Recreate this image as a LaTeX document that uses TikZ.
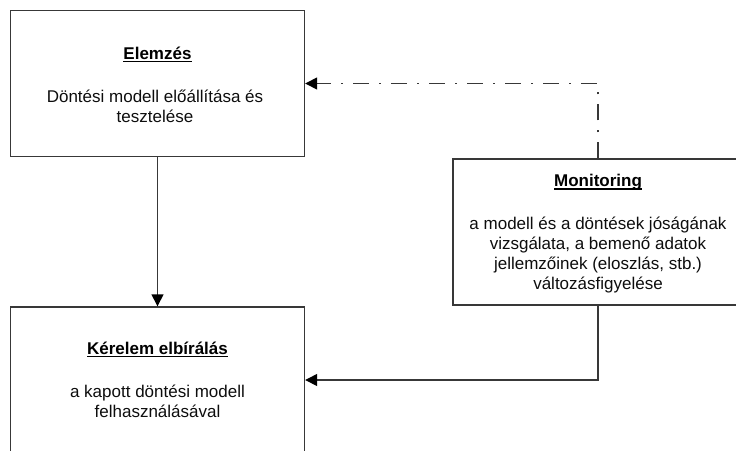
\documentclass[tikz,border=0pt]{standalone}
\usepackage{fontspec}
\setmainfont{Liberation Sans}
\usetikzlibrary{arrows.meta}
% bold heading with a rule a fixed distance under the baseline
\newcommand\ultitle[1]{\setbox0\hbox{\bfseries #1}\leavevmode\rlap{\copy0}\rule[-3.2pt]{\wd0}{1.3pt}}
\begin{document}
\begin{tikzpicture}[x=1pt,y=-1pt,
  box/.style={draw=black!78,line width=1.4pt,rectangle,inner sep=0pt},
  heading/.style={anchor=base,text=black,font=\fontsize{17}{20}\selectfont},
  body/.style={align=center,text=black!95,inner sep=0pt,font=\fontsize{17}{20}\selectfont},
  conn/.style={draw=black!78,line width=1.4pt,-{Triangle[length=12pt,width=12pt,color=black]}},
  dashconn/.style={conn,dash pattern=on 16pt off 10pt on 2pt off 10pt}]
  \useasboundingbox (0,0) rectangle (736,450);
  \clip (0,0) rectangle (736,450);

  % the three process boxes (the right and lower ones run past the frame)
  \node[box,minimum width=294pt,minimum height=146pt] (elem) at (157.5,83.5) {};
  \node[box,minimum width=290pt,minimum height=146pt] (mon) at (598,232) {};
  \node[box,minimum width=294pt,minimum height=200pt] (ker) at (157.5,407) {};

  % texts
  \node[heading] (elemT) at (157.5,59) {\ultitle{Elemzés}};
  \node[body] (elemB) at (155,106.5) {Döntési modell előállítása és\\tesztelése};

  \node[heading] (monT) at (598,186.5) {\ultitle{Monitoring}};
  \node[body] (monB) at (598,255.5) {a modell és a döntések jóságának\\vizsgálata, a bemenő adatok\\jellemzőinek (eloszlás, stb.)\\változásfigyelése};

  \node[heading] (kerT) at (157.5,354) {\ultitle{Kérelem elbírálás}};
  \node[body] (kerB) at (157.5,401) {a kapott döntési modell\\felhasználásával};

  % connectors
  \coordinate (kin) at (ker.east |- 0,380);
  \draw[conn] (elem.south) -- (ker.north);
  \draw[conn] (mon.south) |- (kin);
  \draw[dashconn] (mon.north) |- (elem.east);
\end{tikzpicture}
\end{document}
